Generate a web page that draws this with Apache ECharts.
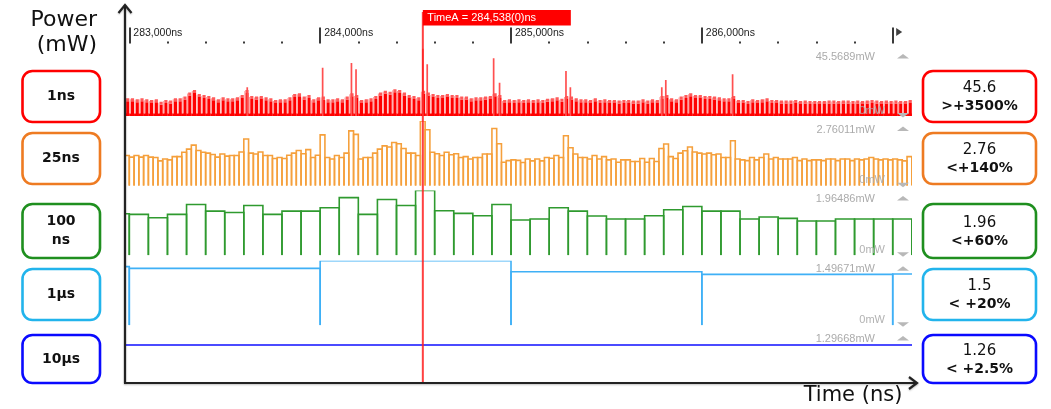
<!DOCTYPE html>
<html>
<head>
<meta charset="utf-8">
<script src="https://cdn.jsdelivr.net/npm/echarts@6/dist/echarts.min.js"></script>
<style>
  html, body { margin: 0; padding: 0; background: #fff; }
  #chart { width: 1051px; height: 409px; }
</style>
</head>
<body>
<div id="chart"></div>
<script>
// ---- track labels and readouts ----
const trackNames = ['1ns', '25ns', '100\nns', '1μs', '10μs'];
const trackReadouts = ['45.6', '2.76', '1.96', '1.5', '1.26'];
const trackDeltas = ['>+3500%', '<+140%', '<+60%', '< +20%', '< +2.5%'];
const scaleTopLabels = ['45.5689mW', '2.76011mW', '1.96486mW', '1.49671mW', '1.29668mW'];
const scaleZeroLabel = '0mW';

// ---- time ruler ----
const rulerStart = 283000;
const rulerEnd = 287000;
const rulerMajorStep = 1000;
const viewStart = 282977.5;
const viewEnd = 287101;
const cursorTime = 284538;
const cursorLabel = 'TimeA = 284,538(0)ns';

// ---- power per bin (mW); bin width in ns and first bin start ----
const bin1ns = 25, start1ns = 282975;
const power1ns = [11.9,
  11.9, 11.3, 11.9, 11.3, 10.8, 11.3, 9.7, 10.8, 10.4, 11.9,
  11.9, 13.1, 15.8, 17.6, 14.9, 14.2, 13.5, 12.6, 11.3, 12.6,
  11.9, 11.9, 12.6, 14.2, 17.6, 13.5, 13.1, 13.5, 12.6, 11.9,
  10.8, 11.3, 11.3, 12.6, 14.9, 15.3, 13.1, 14.2, 11.3, 12.6,
  13.1, 11.3, 11.3, 11.9, 11.3, 13.1, 15.3, 14.2, 10.8, 11.3,
  11.9, 13.5, 15.8, 17.1, 16.4, 18.0, 17.6, 15.8, 14.2, 13.5,
  12.6, 17.1, 15.8, 14.9, 14.2, 14.2, 14.9, 14.2, 14.2, 13.1,
  13.1, 11.9, 12.6, 12.6, 13.1, 13.5, 15.3, 14.2, 10.8, 11.3,
  10.8, 11.3, 10.8, 11.3, 10.8, 11.3, 10.8, 11.7, 11.9, 12.6,
  11.7, 13.5, 13.1, 11.9, 11.3, 11.3, 10.8, 11.9, 10.8, 11.3,
  10.8, 10.8, 10.4, 10.8, 10.8, 10.4, 10.4, 11.3, 10.4, 11.3,
  10.8, 13.5, 14.2, 11.9, 11.3, 13.1, 14.2, 15.3, 14.2, 14.2,
  13.5, 13.5, 13.1, 12.6, 11.9, 11.9, 13.5, 10.8, 10.8, 10.1,
  11.3, 10.8, 11.3, 11.9, 10.8, 10.8, 10.4, 10.4, 10.4, 10.8,
  10.1, 10.4, 10.1, 10.1, 10.1, 10.1, 10.4, 10.4, 10.1, 10.4,
  10.4, 10.1, 10.4, 10.1, 10.4, 10.8, 10.4, 10.1, 10.4, 10.1,
  10.4, 10.1, 10.1, 10.8];
// single-ns peaks: [time ns, mW]
const spikes1ns = [[283618, 19.4], [284013, 32.6], [284164, 35.8], [284188, 31.6],
  [284538, 45.5689], [284561, 34.9], [284909, 39.0], [284940, 22.5], [285288, 30.4],
  [285311, 19.4], [285790, 19.4], [285811, 24.3], [286161, 28.2]];

const bin25ns = 25, start25ns = 282975;
const power25ns = [1.29,
  1.22, 1.29, 1.22, 1.29, 1.22, 1.20, 1.06, 1.14, 1.10, 1.24,
  1.24, 1.43, 1.56, 1.73, 1.50, 1.43, 1.39, 1.33, 1.22, 1.35,
  1.26, 1.29, 1.29, 1.44, 1.99, 1.39, 1.35, 1.44, 1.29, 1.29,
  1.16, 1.20, 1.16, 1.30, 1.39, 1.50, 1.36, 1.54, 1.20, 1.30,
  2.17, 1.20, 1.14, 1.29, 1.20, 1.39, 2.34, 2.19, 1.14, 1.20,
  1.20, 1.39, 1.56, 1.70, 1.65, 1.84, 1.79, 1.59, 1.39, 1.39,
  1.29, 2.76011, 2.39, 1.43, 1.36, 1.29, 1.43, 1.32, 1.36, 1.20,
  1.24, 1.14, 1.20, 1.20, 1.35, 1.35, 2.44, 1.79, 1.00, 1.07,
  1.10, 1.08, 0.99, 1.14, 1.06, 1.14, 1.06, 1.20, 1.17, 1.29,
  1.20, 2.13, 1.62, 1.35, 1.20, 1.20, 1.14, 1.29, 1.14, 1.24,
  1.10, 1.14, 1.00, 1.10, 1.10, 1.03, 1.03, 1.16, 1.00, 1.16,
  1.03, 1.59, 1.78, 1.24, 1.16, 1.39, 1.49, 1.65, 1.44, 1.39,
  1.35, 1.39, 1.32, 1.35, 1.20, 1.20, 1.92, 1.14, 1.10, 1.07,
  1.20, 1.10, 1.20, 1.35, 1.14, 1.20, 1.14, 1.14, 1.14, 1.20,
  1.07, 1.14, 1.07, 1.10, 1.10, 1.07, 1.14, 1.14, 1.07, 1.14,
  1.14, 1.07, 1.14, 1.10, 1.14, 1.20, 1.14, 1.10, 1.14, 1.10,
  1.14, 1.10, 1.06, 1.24];

const bin100ns = 100, start100ns = 282900;
const power100ns = [1.26,
  1.24, 1.14, 1.24, 1.54, 1.34, 1.30, 1.51, 1.24, 1.34, 1.34,
  1.44, 1.75, 1.24, 1.69, 1.51, 1.96486, 1.35, 1.27, 1.20, 1.54,
  1.07, 1.10, 1.44, 1.34, 1.19, 1.10, 1.10, 1.20, 1.38, 1.48,
  1.34, 1.34, 1.10, 1.16, 1.12, 1.04, 1.04, 1.10, 1.10, 1.10,
  1.10];

const bin1us = 1000, start1us = 282000;
const power1us = [1.36, 1.32, 1.49671, 1.24, 1.18, 1.19];

const bin10us = 10000, start10us = 280000;
const power10us = [1.26];

// ---- layout ----
const trackTop = [48.5, 121, 190.5, 260.7, 330.5];
const trackHeight = [67.5, 64.7, 64.8, 64.6, 65];
const trackYMax = [45.5689, 2.76011, 1.96486, 1.49671, 1.622];
const boxTop = [71, 133, 204, 269, 335];
const boxBottom = [122, 184, 258, 320, 383];
const boxColors = ['#ff0000', '#ee7b22', '#1f8f1f', '#22b4ec', '#0a0aff'];
const plotLeft = 125, plotWidth = 787;
const FONT = 'DejaVu Sans';
const SANS = 'Liberation Sans';

function bins(values, start, width) {
  return values.map((v, i) => [start + i * width, start + (i + 1) * width, v]);
}

function outlineRender(color, width) {
  return function (params, api) {
    const a = api.coord([api.value(0), 0]);
    const b = api.coord([api.value(1), api.value(2)]);
    return {
      type: 'polyline',
      shape: { points: [[a[0], a[1]], [a[0], b[1]], [b[0], b[1]], [b[0], a[1]]] },
      style: { stroke: color, lineWidth: width, fill: null }
    };
  };
}

// 1ns track: dense bins drawn as a red column with a light stripe and a lighter cap
function redBandRender(params, api) {
  const a = api.coord([api.value(0), 0]);
  const b = api.coord([api.value(1), api.value(2)]);
  const w = b[0] - a[0];
  const h = a[1] - b[1];
  return {
    type: 'group',
    children: [
      { type: 'rect', shape: { x: a[0] + 1.6, y: b[1] + 3, width: w - 1.6, height: h - 3 }, style: { fill: '#ff0000' } },
      { type: 'rect', shape: { x: a[0] + 1.6, y: b[1], width: w - 1.6, height: 3 }, style: { fill: '#ff5a5a' } },
      { type: 'rect', shape: { x: a[0] + 0.5, y: b[1] + 1, width: 1.1, height: h - 3.5 }, style: { fill: '#ff9c9c' } },
      { type: 'rect', shape: { x: a[0], y: a[1] - 2.5, width: w, height: 2.5 }, style: { fill: '#ff0000' } }
    ]
  };
}

function spikeRender(params, api) {
  const a = api.coord([api.value(0), 0]);
  const b = api.coord([api.value(0), api.value(1)]);
  return {
    type: 'line',
    shape: { x1: a[0], y1: a[1], x2: b[0], y2: b[1] },
    style: { stroke: '#ff5050', lineWidth: 1.7 }
  };
}

function cursorRender(params, api) {
  const top = api.coord([api.value(0), 1]);
  const bottom = api.coord([api.value(0), 0]);
  const x = top[0];
  return {
    type: 'group',
    children: [
      { type: 'line', shape: { x1: x, y1: top[1] + 2, x2: x, y2: bottom[1] },
        style: { stroke: '#ff2020', lineWidth: 2, opacity: 0.85 } },
      { type: 'rect', shape: { x: x, y: top[1], width: 148, height: 15.5 }, style: { fill: '#ff0000' } },
      { type: 'text', x: x + 4.5, y: top[1] + 8, style: {
          text: cursorLabel, fill: '#fff', font: '11px ' + SANS,
          verticalAlign: 'middle', align: 'left' } }
    ]
  };
}

const grids = [];
const xAxes = [];
const yAxes = [];

// 0: time ruler
grids.push({ left: 129.3, width: 763.4, top: 20, height: 23.5, outerBoundsMode: 'none' });
xAxes.push({
  type: 'value', gridIndex: 0, min: rulerStart, max: rulerEnd, interval: rulerMajorStep,
  position: 'bottom',
  axisLine: { show: false },
  splitLine: { show: false },
  axisTick: { show: true, inside: true, length: 16, lineStyle: { color: '#3a3a3a', width: 2 } },
  minorTick: { show: true, splitNumber: 5, length: 2, lineStyle: { color: '#3a3a3a', width: 2 } },
  minorSplitLine: { show: false },
  axisLabel: {
    show: true, inside: true, margin: 10, align: 'left', verticalAlign: 'middle',
    padding: [0, 0, 0, 4], color: '#222', fontFamily: SANS, fontSize: 10.5,
    showMaxLabel: false, showMinLabel: true,
    formatter: v => String(v).replace(/\B(?=(\d{3})+(?!\d))/g, ',') + 'ns'
  }
});
yAxes.push({ type: 'value', gridIndex: 0, min: 0, max: 1, show: false });

// 1..5: power tracks
for (let i = 0; i < 5; i++) {
  grids.push({ left: plotLeft, width: plotWidth, top: trackTop[i], height: trackHeight[i], outerBoundsMode: 'none' });
  xAxes.push({ type: 'value', gridIndex: i + 1, min: viewStart, max: viewEnd, show: false });
  yAxes.push({ type: 'value', gridIndex: i + 1, min: 0, max: trackYMax[i], show: false });
}

// 6: full-height frame for the time cursor
grids.push({ left: plotLeft, width: plotWidth, top: 10, height: 373, outerBoundsMode: 'none' });
xAxes.push({ type: 'value', gridIndex: 6, min: viewStart, max: viewEnd, show: false });
yAxes.push({ type: 'value', gridIndex: 6, min: 0, max: 1, show: false });

const series = [
  { type: 'scatter', xAxisIndex: 0, yAxisIndex: 0, data: [[rulerEnd, 0.49]],
    symbol: 'path://M0,0L6,4L0,8Z', symbolSize: [6, 8], symbolOffset: [6.5, 0],
    itemStyle: { color: '#111' }, silent: true },
  { type: 'custom', xAxisIndex: 1, yAxisIndex: 1, clip: true, renderItem: redBandRender,
    data: bins(power1ns, start1ns, bin1ns) },
  { type: 'custom', xAxisIndex: 1, yAxisIndex: 1, clip: true, renderItem: spikeRender,
    data: spikes1ns },
  { type: 'custom', xAxisIndex: 2, yAxisIndex: 2, clip: true, renderItem: outlineRender('#f5a03c', 1.6),
    data: bins(power25ns, start25ns, bin25ns) },
  { type: 'custom', xAxisIndex: 3, yAxisIndex: 3, clip: true, renderItem: outlineRender('#2f9a2f', 1.6),
    data: bins(power100ns, start100ns, bin100ns) },
  { type: 'custom', xAxisIndex: 4, yAxisIndex: 4, clip: true, renderItem: outlineRender('#3fb0f6', 1.6),
    data: bins(power1us, start1us, bin1us) },
  { type: 'custom', xAxisIndex: 5, yAxisIndex: 5, clip: true, renderItem: outlineRender('#4b4bff', 2),
    data: bins(power10us, start10us, bin10us) },
  { type: 'custom', xAxisIndex: 6, yAxisIndex: 6, clip: false, renderItem: cursorRender,
    data: [[cursorTime]], z: 20 }
];

// ---- decorations: titles, boxes, scale labels, axes ----
const graphic = [];
graphic.push({ type: 'text', x: 97, y: 20.5, z: 50, style: { text: 'Power', font: '22px ' + FONT, fill: '#111', align: 'right', verticalAlign: 'middle' } });
graphic.push({ type: 'text', x: 97, y: 45, z: 50, style: { text: '(mW)', font: '22px ' + FONT, fill: '#111', align: 'right', verticalAlign: 'middle' } });
graphic.push({ type: 'text', x: 853, y: 395.5, z: 50, style: { text: 'Time (ns)', font: '21px ' + FONT, fill: '#111', align: 'center', verticalAlign: 'middle' } });

for (let i = 0; i < 5; i++) {
  const t = boxTop[i], b = boxBottom[i], c = (t + b) / 2;
  graphic.push({ type: 'rect', z: 50, shape: { x: 22.5, y: t, width: 77.5, height: b - t, r: 10 },
    style: { fill: '#fff', stroke: boxColors[i], lineWidth: 2.6 } });
  graphic.push({ type: 'text', z: 51, x: 61, y: c, style: { text: trackNames[i], font: 'bold 14px ' + FONT,
    fill: '#111', align: 'center', verticalAlign: 'middle', lineHeight: 19 } });
  graphic.push({ type: 'rect', z: 50, shape: { x: 923, y: t, width: 113, height: b - t, r: 10 },
    style: { fill: '#fff', stroke: boxColors[i], lineWidth: 2.6 } });
  graphic.push({ type: 'text', z: 51, x: 979.5, y: c - 8, style: { text: trackReadouts[i], font: '15px ' + FONT,
    fill: '#111', align: 'center', verticalAlign: 'middle' } });
  graphic.push({ type: 'text', z: 51, x: 979.5, y: c + 10, style: { text: trackDeltas[i], font: 'bold 14px ' + FONT,
    fill: '#111', align: 'center', verticalAlign: 'middle' } });

  const top = trackTop[i], bottom = trackTop[i] + trackHeight[i];
  graphic.push({ type: 'text', z: 40, x: 875, y: top + 8.5, style: { text: scaleTopLabels[i], font: '11px ' + SANS,
    fill: '#ababab', align: 'right', verticalAlign: 'middle' } });
  graphic.push({ type: 'polygon', z: 40, shape: { points: [[897, top + 10], [909, top + 10], [903, top + 5.5]] },
    style: { fill: '#b8b8b8' } });
  if (i < 4) {
    graphic.push({ type: 'text', z: 40, x: 885, y: bottom - 5.5, style: { text: scaleZeroLabel, font: '11px ' + SANS,
      fill: 'rgba(170,170,170,0.9)', align: 'right', verticalAlign: 'middle' } });
    graphic.push({ type: 'polygon', z: 40, shape: { points: [[897, bottom - 3], [909, bottom - 3], [903, bottom + 1.5]] },
      style: { fill: '#b8b8b8' } });
  }
}

const axisStyle = { stroke: '#222', lineWidth: 2.2, shadowBlur: 2, shadowColor: 'rgba(0,0,0,0.25)', shadowOffsetY: 1 };
graphic.push({ type: 'line', z: 30, shape: { x1: 125, y1: 383, x2: 125, y2: 5 }, style: axisStyle });
graphic.push({ type: 'polyline', z: 30, shape: { points: [[118.5, 13], [125, 5], [131.5, 13]] }, style: Object.assign({ fill: null }, axisStyle) });
graphic.push({ type: 'line', z: 30, shape: { x1: 124, y1: 383, x2: 917, y2: 383 }, style: axisStyle });
graphic.push({ type: 'polyline', z: 30, shape: { points: [[909, 377], [917, 383], [909, 389]] }, style: Object.assign({ fill: null }, axisStyle) });

const chart = echarts.init(document.getElementById('chart'), null, { renderer: 'canvas' });
chart.setOption({
  animation: false,
  backgroundColor: '#fff',
  grid: grids,
  xAxis: xAxes,
  yAxis: yAxes,
  series: series,
  graphic: graphic
});
</script>
</body>
</html>
